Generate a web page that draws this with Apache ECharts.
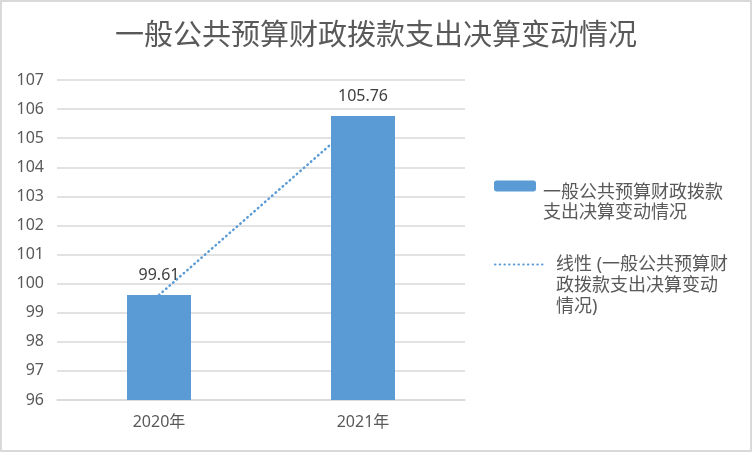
<!DOCTYPE html>
<html>
<head>
<meta charset="utf-8">
<script src="https://cdn.jsdelivr.net/npm/echarts@6/dist/echarts.min.js"></script>
<style>
  html, body { margin: 0; padding: 0; background: #fff; }
  #main { width: 752px; height: 452px; }
</style>
</head>
<body>
<div id="main"></div>
<script>
// 数据
var titleText = '一般公共预算财政拨款支出决算变动情况';
var categories = ['2020年', '2021年'];
var barValues = [99.61, 105.76];
var trendValues = [99.61, 105.76];
var barName = '一般公共预算财政拨款支出决算变动情况';
var trendName = '线性 (一般公共预算财政拨款支出决算变动情况)';
var barLegendLines = ['一般公共预算财政拨款', '支出决算变动情况'];
var trendLegendLines = ['线性 (一般公共预算财', '政拨款支出决算变动', '情况)'];

var myChart = echarts.init(document.getElementById('main'));
var fontFamily = "'Noto Sans', 'Noto Sans CJK SC', sans-serif";
var blue = '#5b9bd5';

// 图例文字：第一行与图标对齐（上方加一个空白行撑开）
function legendText(lines) {
	var s = '{s| }';
	for (var i = 0; i < lines.length; i++) {
		s += '\n{t|' + lines[i] + '}';
	}
	return s;
}

var option = {
	animation : false,
	textStyle : { fontFamily : fontFamily },
	title : {
		text : titleText,
		left : 'center',
		top : 17,
		textStyle : {
			fontSize : 29,
			fontWeight : 'normal',
			color : '#595959',
			fontFamily : fontFamily
		}
	},
	graphic : [ {
		type : 'rect',
		shape : { x : 1, y : 1, width : 750, height : 450 },
		style : { fill : 'none', stroke : '#d9d9d9', lineWidth : 2 },
		silent : true
	} ],
	legend : [ {
		data : [ barName ],
		left : 494,
		top : 161,
		padding : 0,
		itemWidth : 42,
		itemHeight : 11,
		formatter : function() { return legendText(barLegendLines); },
		textStyle : {
			color : '#595959',
			padding : [ 0, 0, 0, 2 ],
			rich : {
				s : { fontSize : 10, lineHeight : 34 },
				t : { fontSize : 18, lineHeight : 20, color : '#595959' }
			}
		}
	}, {
		data : [ {
			name : trendName,
			itemStyle : { opacity : 0 }
		} ],
		left : 494,
		top : 228,
		padding : 0,
		itemWidth : 48,
		itemHeight : 11,
		formatter : function() { return legendText(trendLegendLines); },
		textStyle : {
			color : '#595959',
			padding : [ 0, 0, 0, 8 ],
			rich : {
				s : { fontSize : 10, lineHeight : 43 },
				t : { fontSize : 18, lineHeight : 21, color : '#595959' }
			}
		}
	} ],
	grid : {
		left : 57,
		right : 287,
		top : 80,
		bottom : 52
	},
	xAxis : {
		type : 'category',
		data : categories,
		axisLine : { lineStyle : { color : '#d9d9d9', width : 1.5 } },
		axisTick : { show : false },
		axisLabel : { fontSize : 16, color : '#595959', margin : 14 }
	},
	yAxis : {
		type : 'value',
		min : 96,
		max : 107,
		interval : 1,
		axisLine : { show : false },
		axisTick : { show : false },
		axisLabel : { fontSize : 16, color : '#595959', margin : 13 },
		splitLine : { lineStyle : { color : '#d9d9d9', width : 1.5 } }
	},
	series : [ {
		name : trendName,
		type : 'line',
		data : trendValues,
		z : 1,
		symbol : 'none',
		lineStyle : {
			color : blue,
			width : 2.5,
			type : [ 0.5, 4.2 ],
			cap : 'round'
		},
		itemStyle : { color : blue }
	}, {
		name : barName,
		type : 'bar',
		data : barValues,
		z : 3,
		barWidth : 64,
		itemStyle : { color : blue },
		label : {
			show : true,
			position : 'top',
			distance : 12,
			fontSize : 16,
			color : '#404040'
		}
	} ]
};
myChart.setOption(option);
</script>
</body>
</html>
